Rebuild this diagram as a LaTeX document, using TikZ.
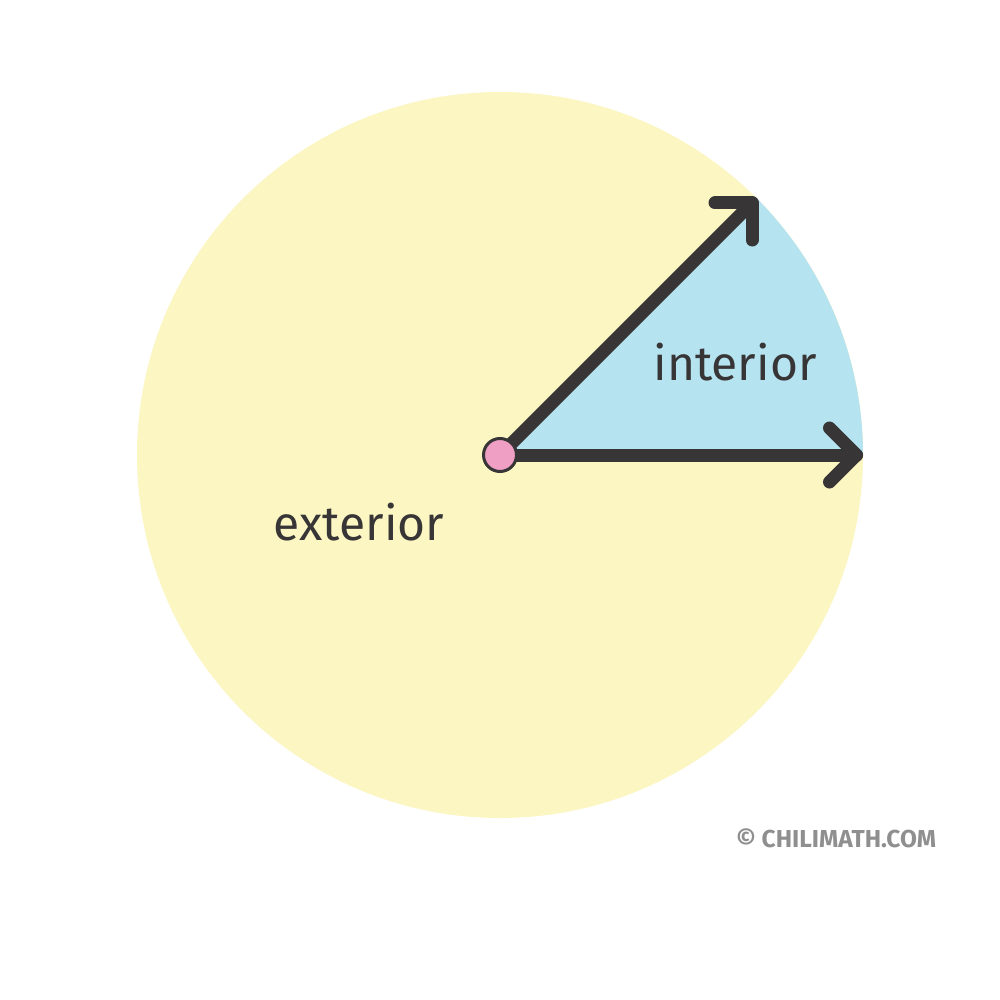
\documentclass[tikz,border=0pt]{standalone}
\usepackage{fontspec}
\setmainfont{Fira Sans}
\newfontfamily\markfont{Fira Sans}
\definecolor{yel}{HTML}{FCF6C2}
\definecolor{blu}{HTML}{B5E3EF}
\definecolor{pnk}{HTML}{EF9FC4}
\definecolor{drk}{HTML}{373536}
\definecolor{gry}{HTML}{8F8F8F}
\begin{document}
\begin{tikzpicture}[x=1pt,y=-1pt,
  ray/.style={draw=drk,line width=13pt,line cap=round,line join=round},
  lbl/.style={text=drk,font=\fontsize{48}{48}\selectfont,inner sep=0pt}]
\useasboundingbox (0,0) rectangle (1000,1000);
\fill[white] (0,0) rectangle (1000,1000);
\coordinate (O) at (500,455);
\fill[yel] (O) circle[radius=363];
\fill[blu] (O) -- (863,455) arc[start angle=0,end angle=-45,radius=363] -- cycle;
\coordinate (A) at (752,203);
\coordinate (B) at (856.5,455);
\draw[ray] (O) -- (A);
\draw[ray] ([shift={(-37,0)}]A) -- (A) -- ([shift={(0,37)}]A);
\draw[ray] (O) -- (B);
\draw[ray] ([shift={(-27,-27)}]B) -- (B) -- ([shift={(-27,27)}]B);
\node[circle,fill=pnk,draw=drk,line width=3pt,minimum size=33pt,inner sep=0pt] (dot) at (O) {};
\node[lbl] (int) at (735,362) {interior};
\node[lbl] (ext) at (359,522) {exterior};
\node[text=gry,font=\markfont\bfseries\fontsize{24.5}{24.5}\selectfont,inner sep=0pt] (copy) at (836,838) {© CHILIMATH.COM};
\end{tikzpicture}
\end{document}
